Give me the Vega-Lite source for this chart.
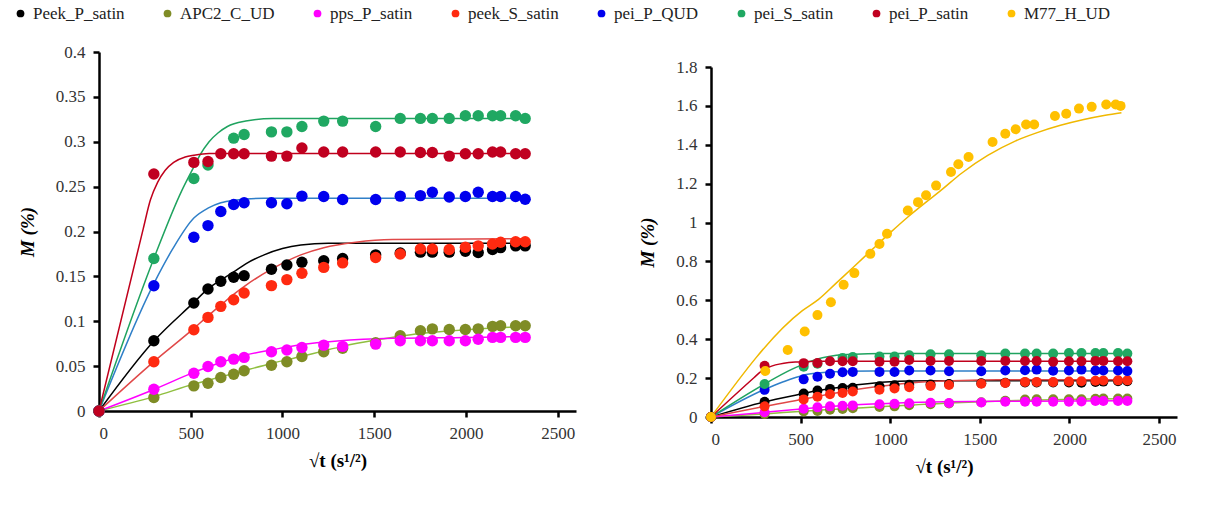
{
  "$schema": "https://vega.github.io/schema/vega-lite/v6.json",
  "padding": {"left": 12, "right": 5, "top": 5, "bottom": 5},
  "background": "white",
  "config": {
    "font": "Liberation Serif, Times New Roman, serif",
    "view": {"stroke": null},
    "axis": {"grid": false, "domainColor": "black", "domainWidth": 2.5, "tickColor": "black", "tickWidth": 2.5, "tickSize": 6, "labelFont": "Liberation Serif, Times New Roman, serif", "labelFontSize": 17, "labelColor": "#333333", "labelOverlap": false, "labelSeparation": 0, "titleFont": "Liberation Serif, Times New Roman, serif", "titleColor": "#000000", "titleFontSize": 19, "labelPadding": 8},
    "legend": {"labelFont": "Liberation Serif, Times New Roman, serif", "labelFontSize": 17, "labelColor": "#222222", "symbolType": "circle", "symbolSize": 60, "symbolStrokeWidth": 0, "columnPadding": 34, "labelOffset": 4, "gridAlign": "none"}
  },
  "datasets": {
    "pts": [
      {"series": "Peek_P_satin", "t": 0, "M": 0}, {"series": "Peek_P_satin", "t": 299, "M": 0.0783}, {"series": "Peek_P_satin", "t": 517, "M": 0.1203}, {"series": "Peek_P_satin", "t": 594, "M": 0.136}, {"series": "Peek_P_satin", "t": 664, "M": 0.1445}, {"series": "Peek_P_satin", "t": 734, "M": 0.149}, {"series": "Peek_P_satin", "t": 791, "M": 0.1508}, {"series": "Peek_P_satin", "t": 940, "M": 0.158}, {"series": "Peek_P_satin", "t": 1024, "M": 0.1627}, {"series": "Peek_P_satin", "t": 1106, "M": 0.1657}, {"series": "Peek_P_satin", "t": 1225, "M": 0.1675}, {"series": "Peek_P_satin", "t": 1328, "M": 0.170}, {"series": "Peek_P_satin", "t": 1508, "M": 0.174}, {"series": "Peek_P_satin", "t": 1642, "M": 0.176}, {"series": "Peek_P_satin", "t": 1752, "M": 0.177}, {"series": "Peek_P_satin", "t": 1817, "M": 0.177}, {"series": "Peek_P_satin", "t": 1909, "M": 0.177}, {"series": "Peek_P_satin", "t": 1997, "M": 0.178}, {"series": "Peek_P_satin", "t": 2067, "M": 0.1765}, {"series": "Peek_P_satin", "t": 2145, "M": 0.180}, {"series": "Peek_P_satin", "t": 2189, "M": 0.182}, {"series": "Peek_P_satin", "t": 2271, "M": 0.184}, {"series": "Peek_P_satin", "t": 2323, "M": 0.184},
      {"series": "APC2_C_UD", "t": 0, "M": 0}, {"series": "APC2_C_UD", "t": 299, "M": 0.015}, {"series": "APC2_C_UD", "t": 517, "M": 0.028}, {"series": "APC2_C_UD", "t": 594, "M": 0.031}, {"series": "APC2_C_UD", "t": 664, "M": 0.0374}, {"series": "APC2_C_UD", "t": 734, "M": 0.041}, {"series": "APC2_C_UD", "t": 791, "M": 0.0448}, {"series": "APC2_C_UD", "t": 940, "M": 0.051}, {"series": "APC2_C_UD", "t": 1024, "M": 0.0548}, {"series": "APC2_C_UD", "t": 1106, "M": 0.0608}, {"series": "APC2_C_UD", "t": 1225, "M": 0.066}, {"series": "APC2_C_UD", "t": 1328, "M": 0.070}, {"series": "APC2_C_UD", "t": 1508, "M": 0.076}, {"series": "APC2_C_UD", "t": 1642, "M": 0.0838}, {"series": "APC2_C_UD", "t": 1752, "M": 0.0894}, {"series": "APC2_C_UD", "t": 1817, "M": 0.0915}, {"series": "APC2_C_UD", "t": 1909, "M": 0.0908}, {"series": "APC2_C_UD", "t": 1997, "M": 0.0908}, {"series": "APC2_C_UD", "t": 2067, "M": 0.0915}, {"series": "APC2_C_UD", "t": 2145, "M": 0.0943}, {"series": "APC2_C_UD", "t": 2189, "M": 0.095}, {"series": "APC2_C_UD", "t": 2271, "M": 0.095}, {"series": "APC2_C_UD", "t": 2323, "M": 0.095},
      {"series": "pps_P_satin", "t": 0, "M": 0}, {"series": "pps_P_satin", "t": 299, "M": 0.0243}, {"series": "pps_P_satin", "t": 517, "M": 0.042}, {"series": "pps_P_satin", "t": 594, "M": 0.0496}, {"series": "pps_P_satin", "t": 664, "M": 0.0548}, {"series": "pps_P_satin", "t": 734, "M": 0.0578}, {"series": "pps_P_satin", "t": 791, "M": 0.0597}, {"series": "pps_P_satin", "t": 940, "M": 0.066}, {"series": "pps_P_satin", "t": 1024, "M": 0.068}, {"series": "pps_P_satin", "t": 1106, "M": 0.0708}, {"series": "pps_P_satin", "t": 1225, "M": 0.0734}, {"series": "pps_P_satin", "t": 1328, "M": 0.072}, {"series": "pps_P_satin", "t": 1508, "M": 0.0745}, {"series": "pps_P_satin", "t": 1642, "M": 0.0783}, {"series": "pps_P_satin", "t": 1752, "M": 0.0783}, {"series": "pps_P_satin", "t": 1817, "M": 0.0783}, {"series": "pps_P_satin", "t": 1909, "M": 0.0783}, {"series": "pps_P_satin", "t": 1997, "M": 0.0783}, {"series": "pps_P_satin", "t": 2067, "M": 0.080}, {"series": "pps_P_satin", "t": 2145, "M": 0.082}, {"series": "pps_P_satin", "t": 2189, "M": 0.082}, {"series": "pps_P_satin", "t": 2271, "M": 0.082}, {"series": "pps_P_satin", "t": 2323, "M": 0.082},
      {"series": "peek_S_satin", "t": 0, "M": 0}, {"series": "peek_S_satin", "t": 299, "M": 0.0548}, {"series": "peek_S_satin", "t": 517, "M": 0.0906}, {"series": "peek_S_satin", "t": 594, "M": 0.1043}, {"series": "peek_S_satin", "t": 664, "M": 0.1166}, {"series": "peek_S_satin", "t": 734, "M": 0.124}, {"series": "peek_S_satin", "t": 791, "M": 0.1315}, {"series": "peek_S_satin", "t": 940, "M": 0.1397}, {"series": "peek_S_satin", "t": 1024, "M": 0.1464}, {"series": "peek_S_satin", "t": 1106, "M": 0.1534}, {"series": "peek_S_satin", "t": 1225, "M": 0.160}, {"series": "peek_S_satin", "t": 1328, "M": 0.165}, {"series": "peek_S_satin", "t": 1508, "M": 0.171}, {"series": "peek_S_satin", "t": 1642, "M": 0.175}, {"series": "peek_S_satin", "t": 1752, "M": 0.1806}, {"series": "peek_S_satin", "t": 1817, "M": 0.1806}, {"series": "peek_S_satin", "t": 1909, "M": 0.180}, {"series": "peek_S_satin", "t": 1997, "M": 0.1824}, {"series": "peek_S_satin", "t": 2067, "M": 0.184}, {"series": "peek_S_satin", "t": 2145, "M": 0.186}, {"series": "peek_S_satin", "t": 2189, "M": 0.188}, {"series": "peek_S_satin", "t": 2271, "M": 0.1885}, {"series": "peek_S_satin", "t": 2323, "M": 0.1885},
      {"series": "pei_P_QUD", "t": 0, "M": 0}, {"series": "pei_P_QUD", "t": 299, "M": 0.1396}, {"series": "pei_P_QUD", "t": 517, "M": 0.1936}, {"series": "pei_P_QUD", "t": 594, "M": 0.2066}, {"series": "pei_P_QUD", "t": 664, "M": 0.2222}, {"series": "pei_P_QUD", "t": 734, "M": 0.230}, {"series": "pei_P_QUD", "t": 791, "M": 0.232}, {"series": "pei_P_QUD", "t": 940, "M": 0.232}, {"series": "pei_P_QUD", "t": 1024, "M": 0.231}, {"series": "pei_P_QUD", "t": 1106, "M": 0.2394}, {"series": "pei_P_QUD", "t": 1225, "M": 0.239}, {"series": "pei_P_QUD", "t": 1328, "M": 0.2357}, {"series": "pei_P_QUD", "t": 1508, "M": 0.2357}, {"series": "pei_P_QUD", "t": 1642, "M": 0.2394}, {"series": "pei_P_QUD", "t": 1752, "M": 0.240}, {"series": "pei_P_QUD", "t": 1817, "M": 0.2438}, {"series": "pei_P_QUD", "t": 1909, "M": 0.2385}, {"series": "pei_P_QUD", "t": 1997, "M": 0.239}, {"series": "pei_P_QUD", "t": 2067, "M": 0.2438}, {"series": "pei_P_QUD", "t": 2145, "M": 0.239}, {"series": "pei_P_QUD", "t": 2189, "M": 0.239}, {"series": "pei_P_QUD", "t": 2271, "M": 0.239}, {"series": "pei_P_QUD", "t": 2323, "M": 0.236},
      {"series": "pei_S_satin", "t": 0, "M": 0}, {"series": "pei_S_satin", "t": 299, "M": 0.170}, {"series": "pei_S_satin", "t": 517, "M": 0.259}, {"series": "pei_S_satin", "t": 594, "M": 0.274}, {"series": "pei_S_satin", "t": 734, "M": 0.304}, {"series": "pei_S_satin", "t": 791, "M": 0.308}, {"series": "pei_S_satin", "t": 940, "M": 0.311}, {"series": "pei_S_satin", "t": 1024, "M": 0.311}, {"series": "pei_S_satin", "t": 1106, "M": 0.317}, {"series": "pei_S_satin", "t": 1225, "M": 0.323}, {"series": "pei_S_satin", "t": 1328, "M": 0.323}, {"series": "pei_S_satin", "t": 1508, "M": 0.317}, {"series": "pei_S_satin", "t": 1642, "M": 0.326}, {"series": "pei_S_satin", "t": 1752, "M": 0.326}, {"series": "pei_S_satin", "t": 1817, "M": 0.326}, {"series": "pei_S_satin", "t": 1909, "M": 0.326}, {"series": "pei_S_satin", "t": 1997, "M": 0.329}, {"series": "pei_S_satin", "t": 2067, "M": 0.329}, {"series": "pei_S_satin", "t": 2145, "M": 0.329}, {"series": "pei_S_satin", "t": 2189, "M": 0.329}, {"series": "pei_S_satin", "t": 2271, "M": 0.329}, {"series": "pei_S_satin", "t": 2323, "M": 0.326},
      {"series": "pei_P_satin", "t": 0, "M": 0}, {"series": "pei_P_satin", "t": 299, "M": 0.264}, {"series": "pei_P_satin", "t": 517, "M": 0.277}, {"series": "pei_P_satin", "t": 594, "M": 0.278}, {"series": "pei_P_satin", "t": 664, "M": 0.2866}, {"series": "pei_P_satin", "t": 734, "M": 0.2866}, {"series": "pei_P_satin", "t": 791, "M": 0.2866}, {"series": "pei_P_satin", "t": 940, "M": 0.284}, {"series": "pei_P_satin", "t": 1024, "M": 0.284}, {"series": "pei_P_satin", "t": 1106, "M": 0.293}, {"series": "pei_P_satin", "t": 1225, "M": 0.2885}, {"series": "pei_P_satin", "t": 1328, "M": 0.2885}, {"series": "pei_P_satin", "t": 1508, "M": 0.2885}, {"series": "pei_P_satin", "t": 1642, "M": 0.2885}, {"series": "pei_P_satin", "t": 1752, "M": 0.288}, {"series": "pei_P_satin", "t": 1817, "M": 0.288}, {"series": "pei_P_satin", "t": 1909, "M": 0.284}, {"series": "pei_P_satin", "t": 1997, "M": 0.2866}, {"series": "pei_P_satin", "t": 2067, "M": 0.2866}, {"series": "pei_P_satin", "t": 2145, "M": 0.2885}, {"series": "pei_P_satin", "t": 2189, "M": 0.2885}, {"series": "pei_P_satin", "t": 2271, "M": 0.2866}, {"series": "pei_P_satin", "t": 2323, "M": 0.2866},
      {"series": "M77_H_UD", "t": 0, "M": 0}, {"series": "M77_H_UD", "t": 303, "M": 0.237}, {"series": "M77_H_UD", "t": 428, "M": 0.345}, {"series": "M77_H_UD", "t": 523, "M": 0.44}, {"series": "M77_H_UD", "t": 594, "M": 0.524}, {"series": "M77_H_UD", "t": 669, "M": 0.59}, {"series": "M77_H_UD", "t": 740, "M": 0.68}, {"series": "M77_H_UD", "t": 800, "M": 0.74}, {"series": "M77_H_UD", "t": 889, "M": 0.839}, {"series": "M77_H_UD", "t": 940, "M": 0.89}, {"series": "M77_H_UD", "t": 982, "M": 0.942}, {"series": "M77_H_UD", "t": 1098, "M": 1.062}, {"series": "M77_H_UD", "t": 1155, "M": 1.105}, {"series": "M77_H_UD", "t": 1200, "M": 1.14}, {"series": "M77_H_UD", "t": 1256, "M": 1.19}, {"series": "M77_H_UD", "t": 1339, "M": 1.26}, {"series": "M77_H_UD", "t": 1380, "M": 1.30}, {"series": "M77_H_UD", "t": 1437, "M": 1.337}, {"series": "M77_H_UD", "t": 1571, "M": 1.414}, {"series": "M77_H_UD", "t": 1642, "M": 1.457}, {"series": "M77_H_UD", "t": 1700, "M": 1.48}, {"series": "M77_H_UD", "t": 1758, "M": 1.504}, {"series": "M77_H_UD", "t": 1803, "M": 1.504}, {"series": "M77_H_UD", "t": 1919, "M": 1.548}, {"series": "M77_H_UD", "t": 1982, "M": 1.56}, {"series": "M77_H_UD", "t": 2053, "M": 1.586}, {"series": "M77_H_UD", "t": 2124, "M": 1.595}, {"series": "M77_H_UD", "t": 2205, "M": 1.607}, {"series": "M77_H_UD", "t": 2258, "M": 1.607}, {"series": "M77_H_UD", "t": 2285, "M": 1.60}
    ],
    "fit": [
      {"curve": "Peek_P_satin", "t": 0, "M": 0}, {"curve": "Peek_P_satin", "t": 299, "M": 0.078}, {"curve": "Peek_P_satin", "t": 517, "M": 0.121}, {"curve": "Peek_P_satin", "t": 594, "M": 0.136}, {"curve": "Peek_P_satin", "t": 664, "M": 0.146}, {"curve": "Peek_P_satin", "t": 734, "M": 0.155}, {"curve": "Peek_P_satin", "t": 800, "M": 0.164}, {"curve": "Peek_P_satin", "t": 900, "M": 0.174}, {"curve": "Peek_P_satin", "t": 1000, "M": 0.181}, {"curve": "Peek_P_satin", "t": 1100, "M": 0.185}, {"curve": "Peek_P_satin", "t": 1250, "M": 0.187}, {"curve": "Peek_P_satin", "t": 2323, "M": 0.187},
      {"curve": "APC2_C_UD", "t": 0, "M": 0}, {"curve": "APC2_C_UD", "t": 299, "M": 0.016}, {"curve": "APC2_C_UD", "t": 517, "M": 0.030}, {"curve": "APC2_C_UD", "t": 664, "M": 0.038}, {"curve": "APC2_C_UD", "t": 791, "M": 0.045}, {"curve": "APC2_C_UD", "t": 940, "M": 0.053}, {"curve": "APC2_C_UD", "t": 1106, "M": 0.061}, {"curve": "APC2_C_UD", "t": 1225, "M": 0.067}, {"curve": "APC2_C_UD", "t": 1328, "M": 0.072}, {"curve": "APC2_C_UD", "t": 1508, "M": 0.079}, {"curve": "APC2_C_UD", "t": 1700, "M": 0.085}, {"curve": "APC2_C_UD", "t": 1900, "M": 0.089}, {"curve": "APC2_C_UD", "t": 2100, "M": 0.092}, {"curve": "APC2_C_UD", "t": 2323, "M": 0.094},
      {"curve": "pps_P_satin", "t": 0, "M": 0}, {"curve": "pps_P_satin", "t": 299, "M": 0.024}, {"curve": "pps_P_satin", "t": 517, "M": 0.043}, {"curve": "pps_P_satin", "t": 664, "M": 0.054}, {"curve": "pps_P_satin", "t": 791, "M": 0.062}, {"curve": "pps_P_satin", "t": 940, "M": 0.068}, {"curve": "pps_P_satin", "t": 1106, "M": 0.074}, {"curve": "pps_P_satin", "t": 1300, "M": 0.078}, {"curve": "pps_P_satin", "t": 1600, "M": 0.081}, {"curve": "pps_P_satin", "t": 2000, "M": 0.082}, {"curve": "pps_P_satin", "t": 2323, "M": 0.083},
      {"curve": "peek_S_satin", "t": 0, "M": 0}, {"curve": "peek_S_satin", "t": 299, "M": 0.055}, {"curve": "peek_S_satin", "t": 517, "M": 0.092}, {"curve": "peek_S_satin", "t": 594, "M": 0.106}, {"curve": "peek_S_satin", "t": 664, "M": 0.118}, {"curve": "peek_S_satin", "t": 734, "M": 0.130}, {"curve": "peek_S_satin", "t": 800, "M": 0.140}, {"curve": "peek_S_satin", "t": 940, "M": 0.158}, {"curve": "peek_S_satin", "t": 1100, "M": 0.174}, {"curve": "peek_S_satin", "t": 1225, "M": 0.182}, {"curve": "peek_S_satin", "t": 1400, "M": 0.188}, {"curve": "peek_S_satin", "t": 1600, "M": 0.191}, {"curve": "peek_S_satin", "t": 2323, "M": 0.192},
      {"curve": "pei_P_QUD", "t": 0, "M": 0}, {"curve": "pei_P_QUD", "t": 299, "M": 0.142}, {"curve": "pei_P_QUD", "t": 400, "M": 0.180}, {"curve": "pei_P_QUD", "t": 517, "M": 0.215}, {"curve": "pei_P_QUD", "t": 594, "M": 0.226}, {"curve": "pei_P_QUD", "t": 664, "M": 0.232}, {"curve": "pei_P_QUD", "t": 750, "M": 0.235}, {"curve": "pei_P_QUD", "t": 900, "M": 0.237}, {"curve": "pei_P_QUD", "t": 2323, "M": 0.237},
      {"curve": "pei_S_satin", "t": 0, "M": 0}, {"curve": "pei_S_satin", "t": 299, "M": 0.170}, {"curve": "pei_S_satin", "t": 450, "M": 0.245}, {"curve": "pei_S_satin", "t": 517, "M": 0.272}, {"curve": "pei_S_satin", "t": 550, "M": 0.285}, {"curve": "pei_S_satin", "t": 600, "M": 0.300}, {"curve": "pei_S_satin", "t": 650, "M": 0.310}, {"curve": "pei_S_satin", "t": 700, "M": 0.317}, {"curve": "pei_S_satin", "t": 800, "M": 0.323}, {"curve": "pei_S_satin", "t": 950, "M": 0.326}, {"curve": "pei_S_satin", "t": 2323, "M": 0.326},
      {"curve": "pei_P_satin", "t": 0, "M": 0}, {"curve": "pei_P_satin", "t": 241, "M": 0.203}, {"curve": "pei_P_satin", "t": 280, "M": 0.235}, {"curve": "pei_P_satin", "t": 320, "M": 0.255}, {"curve": "pei_P_satin", "t": 360, "M": 0.268}, {"curve": "pei_P_satin", "t": 407, "M": 0.277}, {"curve": "pei_P_satin", "t": 470, "M": 0.283}, {"curve": "pei_P_satin", "t": 517, "M": 0.285}, {"curve": "pei_P_satin", "t": 600, "M": 0.287}, {"curve": "pei_P_satin", "t": 2323, "M": 0.287},
      {"curve": "M77_H_UD", "t": 0, "M": 0}, {"curve": "M77_H_UD", "t": 508, "M": 0.546}, {"curve": "M77_H_UD", "t": 600, "M": 0.605}, {"curve": "M77_H_UD", "t": 700, "M": 0.69}, {"curve": "M77_H_UD", "t": 800, "M": 0.775}, {"curve": "M77_H_UD", "t": 900, "M": 0.862}, {"curve": "M77_H_UD", "t": 1000, "M": 0.948}, {"curve": "M77_H_UD", "t": 1100, "M": 1.03}, {"curve": "M77_H_UD", "t": 1200, "M": 1.105}, {"curve": "M77_H_UD", "t": 1276, "M": 1.16}, {"curve": "M77_H_UD", "t": 1400, "M": 1.255}, {"curve": "M77_H_UD", "t": 1544, "M": 1.345}, {"curve": "M77_H_UD", "t": 1700, "M": 1.42}, {"curve": "M77_H_UD", "t": 1812, "M": 1.46}, {"curve": "M77_H_UD", "t": 1950, "M": 1.5}, {"curve": "M77_H_UD", "t": 2080, "M": 1.53}, {"curve": "M77_H_UD", "t": 2200, "M": 1.552}, {"curve": "M77_H_UD", "t": 2290, "M": 1.565}
    ]
  },
  "spacing": 62,
  "resolve": {"scale": {"color": "shared", "stroke": "shared"}, "legend": {"color": "shared"}},
  "hconcat": [
    {
      "width": 477,
      "height": 359,
      "layer": [
        {
          "data": {"name": "fit"},
          "transform": [{"filter": "datum.curve !== 'M77_H_UD'"}],
          "mark": {"type": "line", "strokeWidth": 1.5, "interpolate": "monotone"},
          "encoding": {
            "x": {"field": "t", "type": "quantitative", "scale": {"domain": [0, 2500]}, "axis": {"values": [0, 500, 1000, 1500, 2000, 2500], "format": "d", "title": "√t (s¹/²)", "titlePadding": 10, "labelOverlap": false}},
            "y": {"field": "M", "type": "quantitative", "scale": {"domain": [0, 0.4]}, "axis": {"values": [0, 0.05, 0.1, 0.15, 0.2, 0.25, 0.3, 0.35, 0.4], "format": "~g", "title": "M (%)", "titleFontStyle": "italic", "titleFontWeight": "bold", "titlePadding": 18, "labelOverlap": false}},
            "stroke": {"field": "curve", "type": "nominal", "scale": {"domain": ["M77_H_UD", "pei_P_satin", "pei_S_satin", "pei_P_QUD", "peek_S_satin", "pps_P_satin", "APC2_C_UD", "Peek_P_satin"], "range": ["#f0b800", "#c0001c", "#1fa35f", "#2f7fc8", "#e04848", "#ff00ff", "#8fbf3f", "#000000"]}, "legend": null}
          }
        },
        {
          "data": {"name": "pts"},
          "transform": [{"filter": "datum.series !== 'M77_H_UD'"}],
          "mark": {"type": "circle", "size": 130, "opacity": 1},
          "encoding": {
            "x": {"field": "t", "type": "quantitative", "axis": {"values": [0, 500, 1000, 1500, 2000, 2500], "format": "d", "title": "√t (s¹/²)", "titlePadding": 10, "labelOverlap": false}},
            "y": {"field": "M", "type": "quantitative", "axis": {"values": [0, 0.05, 0.1, 0.15, 0.2, 0.25, 0.3, 0.35, 0.4], "format": "~g", "title": "M (%)", "titleFontStyle": "italic", "titleFontWeight": "bold", "titlePadding": 18, "labelOverlap": false}},
            "color": {"field": "series", "type": "nominal", "scale": {"domain": ["Peek_P_satin", "APC2_C_UD", "pps_P_satin", "peek_S_satin", "pei_P_QUD", "pei_S_satin", "pei_P_satin", "M77_H_UD"], "range": ["#000000", "#7f8c26", "#ff00ff", "#ff2a10", "#0000ee", "#20a862", "#c00020", "#ffc000"]}, "legend": {"title": null, "orient": "none", "legendX": -87, "legendY": -47, "direction": "horizontal"}}
          }
        }
      ]
    },
    {
      "spacing": 2,
      "vconcat": [
        {
          "width": 466,
          "height": 1,
          "data": {"values": [{"t": 0}]},
          "mark": {"type": "point", "opacity": 0},
          "encoding": {}
        },
        {
          "width": 466,
          "height": 350,
          "layer": [
            {
              "data": {"name": "fit"},
              "mark": {"type": "line", "strokeWidth": 1.5, "interpolate": "monotone"},
              "encoding": {
                "x": {"field": "t", "type": "quantitative", "scale": {"domain": [0, 2500]}, "axis": {"values": [0, 500, 1000, 1500, 2000, 2500], "format": "d", "title": "√t (s¹/²)", "titlePadding": 10, "labelOverlap": false}},
                "y": {"field": "M", "type": "quantitative", "scale": {"domain": [0, 1.8]}, "axis": {"values": [0, 0.2, 0.4, 0.6, 0.8, 1, 1.2, 1.4, 1.6, 1.8], "format": "~g", "title": "M (%)", "titleFontStyle": "italic", "titleFontWeight": "bold", "titlePadding": 18, "labelOverlap": false}},
                "stroke": {"field": "curve", "type": "nominal", "scale": {"domain": ["M77_H_UD", "pei_P_satin", "pei_S_satin", "pei_P_QUD", "peek_S_satin", "pps_P_satin", "APC2_C_UD", "Peek_P_satin"], "range": ["#f0b800", "#c0001c", "#1fa35f", "#2f7fc8", "#e04848", "#ff00ff", "#8fbf3f", "#000000"]}, "legend": null}
              }
            },
            {
              "data": {"name": "pts"},
              "mark": {"type": "circle", "size": 100, "opacity": 1},
              "encoding": {
                "x": {"field": "t", "type": "quantitative", "axis": {"values": [0, 500, 1000, 1500, 2000, 2500], "format": "d", "title": "√t (s¹/²)", "titlePadding": 10, "labelOverlap": false}},
                "y": {"field": "M", "type": "quantitative", "axis": {"values": [0, 0.2, 0.4, 0.6, 0.8, 1, 1.2, 1.4, 1.6, 1.8], "format": "~g", "title": "M (%)", "titleFontStyle": "italic", "titleFontWeight": "bold", "titlePadding": 18, "labelOverlap": false}},
                "color": {"field": "series", "type": "nominal", "scale": {"domain": ["Peek_P_satin", "APC2_C_UD", "pps_P_satin", "peek_S_satin", "pei_P_QUD", "pei_S_satin", "pei_P_satin", "M77_H_UD"], "range": ["#000000", "#7f8c26", "#ff00ff", "#ff2a10", "#0000ee", "#20a862", "#c00020", "#ffc000"]}, "legend": {"title": null, "orient": "none", "legendX": -87, "legendY": -47, "direction": "horizontal"}}
              }
            }
          ]
        }
      ]
    }
  ]
}
